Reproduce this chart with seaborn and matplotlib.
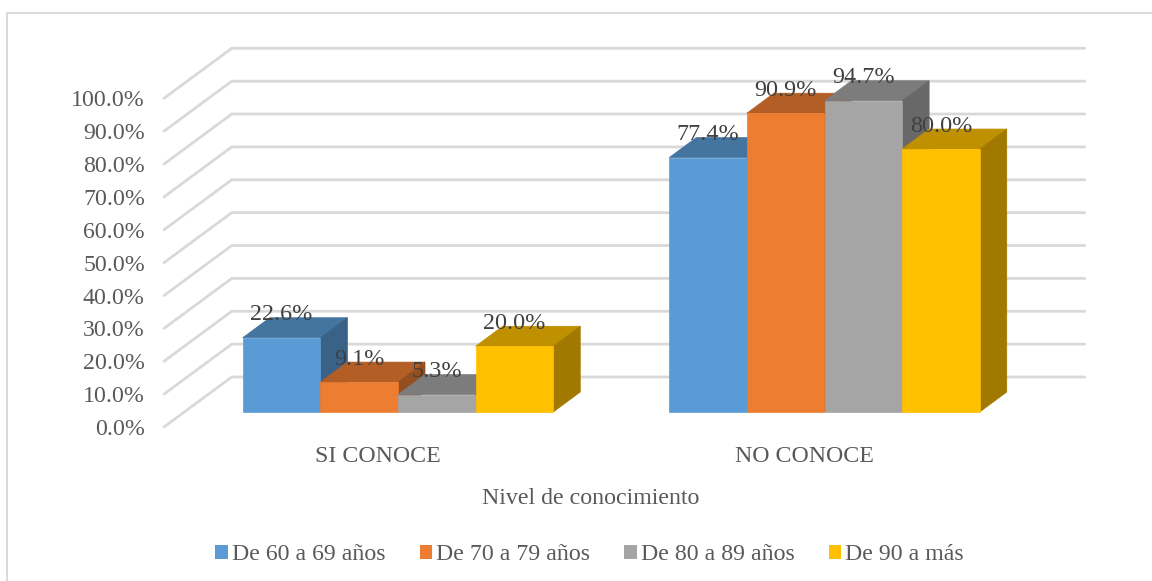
"""Nivel de conocimiento por grupo de edad, columnas con efecto 3D."""
import numpy as np
import pandas as pd
import seaborn as sns
import matplotlib.pyplot as plt
from matplotlib.colors import to_rgb
from matplotlib.lines import Line2D
from matplotlib.patches import Polygon
from matplotlib.transforms import ScaledTranslation

categories = ["SI CONOCE", "NO CONOCE"]
age_groups = ["De 60 a 69 años", "De 70 a 79 años", "De 80 a 89 años", "De 90 a más"]
si_conoce = [22.6, 9.1, 5.3, 20.0]
no_conoce = [77.4, 90.9, 94.7, 80.0]
colors = ["#5B9BD5", "#ED7D31", "#A5A5A5", "#FFC000"]
y_ticks = [0, 10, 20, 30, 40, 50, 60, 70, 80, 90, 100]

W, H = 1152, 581
DPI = 100
FS = 17.2
# front plane of the bars, in pixels of the picture
LEFT, RIGHT, BASE, TOP = 184.75, 1037.75, 412, 83.3
BAR_DEPTH = (27, 20)      # px, right and up
WALL_FRONT = (-20.75, 15)  # from the bar plane to the front edge of the walls
WALL_BACK = (47, 35)

df = pd.DataFrame({
    "nivel": np.repeat(categories, len(age_groups)),
    "edad": age_groups * len(categories),
    "valor": si_conoce + no_conoce,
})

sns.set_theme(style="white")
plt.rcParams["font.family"] = ["Liberation Serif", "DejaVu Serif"]

fig = plt.figure(figsize=(W / DPI, H / DPI), dpi=DPI)
ax = fig.add_axes([LEFT / W, 1 - BASE / H, (RIGHT - LEFT) / W, (BASE - TOP) / H])

sns.barplot(data=df, x="nivel", y="valor", hue="edad", order=categories, hue_order=age_groups,
            palette=colors, saturation=1, width=0.728, gap=0, linewidth=0, ax=ax)
ax.set_xlim(-0.5, 1.5)
ax.set_ylim(0, 100)
sns.despine(ax=ax, left=True, bottom=True)
ax.patch.set_alpha(0)

ux = 2 / (RIGHT - LEFT)
uy = 100 / (BASE - TOP)

# walls and gridlines
for t in y_ticks:
    fx, fy = WALL_FRONT[0] * ux, t - WALL_FRONT[1] * uy
    bx, by = WALL_BACK[0] * ux, t + WALL_BACK[1] * uy
    ax.plot([-0.5 + fx, -0.5 + bx, 1.5 + bx], [fy, by, by], color="#D9D9D9", lw=2.0,
            clip_on=False, zorder=1, solid_joinstyle="miter")

# top and side faces, left to right so each bar hides the one before
bars = sorted([p for c in ax.containers for p in c], key=lambda p: p.get_x())
dx, dy = BAR_DEPTH[0] * ux, BAR_DEPTH[1] * uy
for i, p in enumerate(bars):
    x0, x1, h = p.get_x(), p.get_x() + p.get_width(), p.get_height()
    c = np.array(to_rgb(p.get_facecolor()))
    # thin edge in the face colour keeps hidden faces from showing through the seams
    top = Polygon([(x0, h), (x1, h), (x1 + dx, h + dy), (x0 + dx, h + dy)], fc=c * 0.75, ec=c * 0.75,
                  lw=0.5, clip_on=False, zorder=10 + i)
    side = Polygon([(x1, 0), (x1 + dx, dy), (x1 + dx, h + dy), (x1, h)], fc=c * 0.63, ec=c * 0.63,
                   lw=0.5, clip_on=False, zorder=10 + i)
    ax.add_patch(top)
    ax.add_patch(side)
    p.set_edgecolor(c)
    p.set_linewidth(0.5)
    p.set_zorder(10.5 + i)
    p.set_clip_on(False)
    ax.annotate(f"{h:.1f}%", (x0 + p.get_width() / 2, h), xytext=(0, 23), textcoords="offset pixels",
                ha="center", va="center", color="#404040", fontsize=FS + 0.2, zorder=50,
                annotation_clip=False)

# axis labels sit on the front edge of the walls
shift = ScaledTranslation((WALL_FRONT[0] + 1) / DPI, -WALL_FRONT[1] / DPI, fig.dpi_scale_trans)
ax.set_yticks(y_ticks, [f"{t:.1f}%" for t in y_ticks])
ax.tick_params(axis="y", length=0, pad=14.5, labelcolor="#595959", labelsize=FS)
ax.tick_params(axis="x", length=0, pad=14, labelcolor="#595959", labelsize=FS)
for lbl in ax.get_yticklabels() + ax.get_xticklabels():
    lbl.set_transform(lbl.get_transform() + shift)

ax.set_ylabel("")
ax.set_xlabel("Nivel de conocimiento", color="#595959", fontsize=FS, va="center")
ax.xaxis.set_label_coords(591 / W, 1 - 499 / H, transform=fig.transFigure)

handles, labels = ax.get_legend_handles_labels()
ax.legend(handles, labels, loc="center", bbox_to_anchor=(589.5 / W, 1 - 555 / H),
          bbox_transform=fig.transFigure, ncol=4, frameon=False, fontsize=FS,
          labelcolor="#595959", handlelength=0.52, handleheight=0.52, handletextpad=0.16,
          columnspacing=1.44, borderpad=0, borderaxespad=0)

# chart frame: only the left and top edges fall inside the picture
fig.add_artist(Line2D([7 / W, 7 / W, 1], [0, 1 - 12.5 / H, 1 - 12.5 / H], transform=fig.transFigure,
                      color="#D9D9D9", lw=1.4, solid_joinstyle="miter"))

fig.savefig("out.png", dpi=DPI)
